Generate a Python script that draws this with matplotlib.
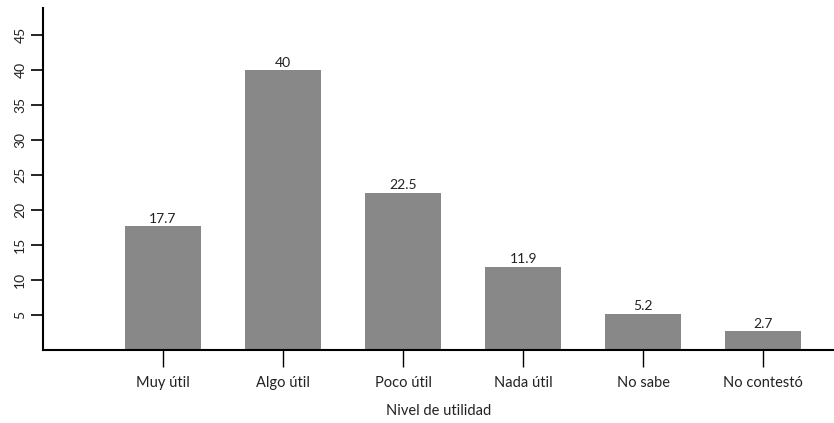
import matplotlib
matplotlib.use('Agg')
import matplotlib.pyplot as plt

categories = ['Muy útil', 'Algo útil', 'Poco útil', 'Nada útil', 'No sabe', 'No contestó']
values = [17.7, 40, 22.5, 11.9, 5.2, 2.7]
value_labels = ['17.7', '40', '22.5', '11.9', '5.2', '2.7']
yticks = [5, 10, 15, 20, 25, 30, 35, 40, 45]

plt.rcParams['font.family'] = ['Lato', 'DejaVu Sans']

fig = plt.figure(figsize=(8.34, 4.23), dpi=100)
ax = fig.add_axes([43 / 834, 73 / 423, 1 - 43 / 834, (350 - 8) / 423])

x = range(len(categories))
bars = ax.bar(x, values, width=0.633, color='#888888')
for b, lab in zip(bars, value_labels):
    ax.text(b.get_x() + b.get_width() / 2, b.get_height() + 0.2, lab,
            ha='center', va='bottom', fontsize=10, color='#222222')

ax.set_xlim(-1, 5.59)
ax.set_ylim(0, 48.9)
ax.set_xticks(list(x))
ax.set_xticklabels(categories, fontsize=10.5, color='#222222')
ax.set_yticks(yticks)
ax.set_yticklabels([str(t) for t in yticks], rotation=90, va='center', fontsize=10, color='#222222')
ax.tick_params(axis='x', length=12, width=1, pad=7)
ax.tick_params(axis='y', length=9, width=1.2, pad=3)
ax.set_xlabel('Nivel de utilidad', fontsize=10.5, color='#222222', labelpad=10)

for s in ['top', 'right']:
    ax.spines[s].set_visible(False)
for s in ['left', 'bottom']:
    ax.spines[s].set_linewidth(1.5)

fig.savefig('out.png', dpi=100)
